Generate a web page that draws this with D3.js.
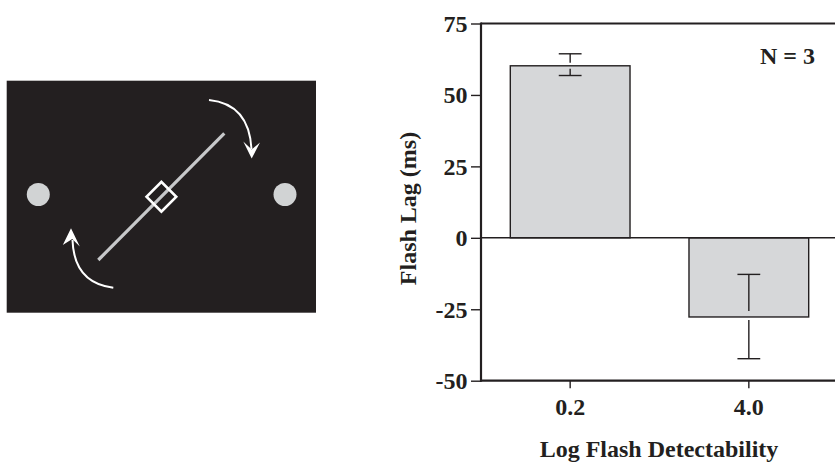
<!DOCTYPE html>
<html>
<head>
<meta charset="utf-8">
<script src="https://cdn.jsdelivr.net/npm/d3@7"></script>
<style>
  html, body { margin: 0; padding: 0; background: #fff; }
  svg { display: block; }
  text { font-family: "Liberation Serif", "Times New Roman", serif; font-weight: bold; fill: #231f20; }
</style>
</head>
<body>
<svg id="chart" width="835" height="462"></svg>
<script>
// ---- data ----
const categories = ["0.2", "4.0"];
const flashLag = [60.2, -27.7];
const errHigh = [64.4, -12.8];
const errLow = [56.8, -42.3];
const yTicks = [75, 50, 25, 0, -25, -50];
const yLabel = "Flash Lag (ms)";
const xLabel = "Log Flash Detectability";
const note = "N = 3";

const ink = "#231f20";
const svg = d3.select("#chart");

// ---- left stimulus panel ----
const stim = svg.append("g");
stim.append("rect").attr("x", 6.7).attr("y", 80.7).attr("width", 309.3).attr("height", 232)
  .attr("fill", ink);
stim.selectAll("circle.dot").data([38.3, 285]).join("circle")
  .attr("cx", d => d).attr("cy", 194.5).attr("r", 11.5).attr("fill", "#d1d3d4");
stim.append("line").attr("x1", 98.3).attr("y1", 260).attr("x2", 224.3).attr("y2", 133.3)
  .attr("stroke", "#c7c8ca").attr("stroke-width", 3.2);
stim.append("rect").attr("x", -10.5).attr("y", -10.5).attr("width", 21).attr("height", 21)
  .attr("transform", "translate(161.4,196.7) rotate(45)")
  .attr("fill", "none").attr("stroke", "#fff").attr("stroke-width", 2.6);
// curved arrows
stim.append("path").attr("d", "M209,100 Q249,104 251.5,149")
  .attr("fill", "none").attr("stroke", "#fff").attr("stroke-width", 2);
stim.append("path").attr("d", "M251.7,158.5 L243.3,141.5 L251.7,149.5 L260,142.5 Z").attr("fill", "#fff");
stim.append("path").attr("d", "M113.3,287.7 Q74,283 72.5,240")
  .attr("fill", "none").attr("stroke", "#fff").attr("stroke-width", 2);
stim.append("path").attr("d", "M71,228.3 L79.8,246.5 L72.2,239 L62.8,245 Z").attr("fill", "#fff");

// ---- bar chart ----
const plotL = 481, plotR = 838, plotT = 23.5, plotB = 380.7;
const y = d3.scaleLinear().domain([-50, 75]).range([plotB, plotT]);
const x = d3.scaleBand().domain(categories).range([plotL, plotR])
  .paddingInner(0.33).paddingOuter(0.164);

const g = svg.append("g");

// bars
g.selectAll("rect.bar").data(categories).join("rect")
  .attr("class", "bar")
  .attr("x", d => x(d))
  .attr("width", x.bandwidth())
  .attr("y", (d, i) => y(Math.max(0, flashLag[i])))
  .attr("height", (d, i) => Math.abs(y(flashLag[i]) - y(0)))
  .attr("fill", "#d6d7d9").attr("stroke", ink).attr("stroke-width", 1.4);

// zero line
g.append("line").attr("x1", plotL).attr("x2", plotR).attr("y1", y(0)).attr("y2", y(0))
  .attr("stroke", ink).attr("stroke-width", 1.4);

// error bars (with small gap where they cross the bar edge)
const capHalf = 11.4;
categories.forEach((c, i) => {
  const cx = x(c) + x.bandwidth() / 2;
  const edge = y(flashLag[i]);
  const up = flashLag[i] >= 0;
  const gin = up ? 3 : 6, gout = 3;
  const hi = y(errHigh[i]), lo = y(errLow[i]);
  const seg = [];
  if (up) { seg.push([hi, edge - gout]); seg.push([edge + gin, lo]); }
  else { seg.push([hi, edge - gin]); seg.push([edge + gout, lo]); }
  seg.forEach(s => g.append("line").attr("x1", cx).attr("x2", cx).attr("y1", s[0]).attr("y2", s[1])
    .attr("stroke", ink).attr("stroke-width", 1.4));
  [hi, lo].forEach(v => g.append("line").attr("x1", cx - capHalf).attr("x2", cx + capHalf)
    .attr("y1", v).attr("y2", v).attr("stroke", ink).attr("stroke-width", 1.4));
});

// frame line
g.append("line").attr("x1", plotL).attr("x2", plotR).attr("y1", plotT).attr("y2", plotT)
  .attr("stroke", ink).attr("stroke-width", 1.8);

// y axis
const yAxis = g.append("g").attr("transform", `translate(${plotL},0)`)
  .call(d3.axisLeft(y).tickValues(yTicks).tickSize(10).tickSizeOuter(0).tickPadding(3.5)
    .tickFormat(d => String(d)));
yAxis.select(".domain").remove();
yAxis.selectAll(".tick line").attr("stroke", ink).attr("stroke-width", 1.4);
yAxis.selectAll(".tick text").style("font-size", "24px").attr("dy", "0.33em").attr("fill", ink);

// x axis
const xAxis = g.append("g").attr("transform", `translate(0,${plotB})`)
  .call(d3.axisBottom(x).tickSize(7.5).tickSizeOuter(0));
xAxis.select(".domain").remove();
xAxis.selectAll(".tick line").attr("stroke", ink).attr("stroke-width", 1.4);
xAxis.selectAll(".tick text").style("font-size", "24px").attr("y", 34.3).attr("dy", 0).attr("fill", ink);

// axis lines
g.append("line").attr("x1", plotL).attr("x2", plotL).attr("y1", plotT - 0.9).attr("y2", plotB + 1)
  .attr("stroke", ink).attr("stroke-width", 2.2);
g.append("line").attr("x1", plotL - 1).attr("x2", plotR).attr("y1", plotB).attr("y2", plotB)
  .attr("stroke", ink).attr("stroke-width", 2.2);

// labels
g.append("text").attr("x", 659).attr("y", 456.5).attr("text-anchor", "middle")
  .style("font-size", "24px").text(xLabel);
g.append("text").attr("transform", "translate(416,208.5) rotate(-90)").attr("text-anchor", "middle")
  .style("font-size", "24px").text(yLabel);
g.append("text").attr("x", 815).attr("y", 64).attr("text-anchor", "end")
  .style("font-size", "24px").text(note);
</script>
</body>
</html>
